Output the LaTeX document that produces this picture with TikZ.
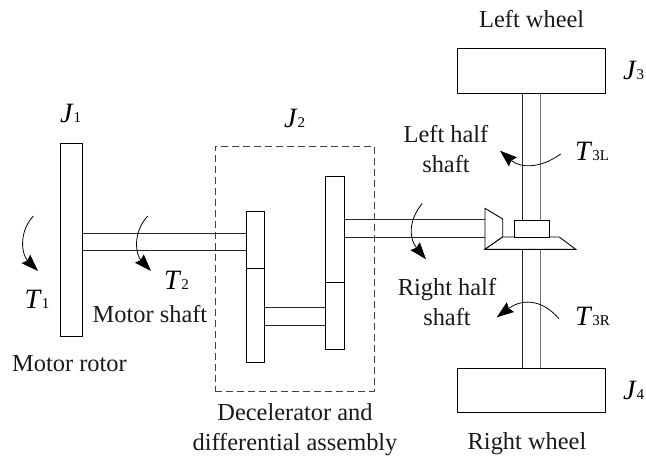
\documentclass[tikz,border=0pt]{standalone}
\usepackage{fontspec}
\setmainfont{Liberation Serif}
\usetikzlibrary{arrows.meta}
\tikzset{
 part/.style={draw=black,fill=white,line width=0.9pt},
 shaftline/.style={draw=black!85,line width=0.8pt},
 torque/.style={draw=black,line width=0.8pt,-{Stealth[length=17pt,width=12pt,inset=2pt]}},
 lbl/.style={font=\fontsize{24.4}{30}\selectfont,align=center,inner sep=0pt,text=black!90,anchor=base},
 sym/.style={inner sep=0pt,text=black,anchor=base west},
}
\newcommand{\symb}[2]{{\fontsize{28}{28}\selectfont\textit{#1}}{\fontsize{15}{15}\selectfont #2}}
\begin{document}
\begin{tikzpicture}[x=1pt,y=-1pt]
\useasboundingbox (0,0) rectangle (646,456);
% shafts
\draw[shaftline] (82,233.3) -- (245.5,233.3) (82,250.7) -- (245.5,250.7);
\draw[shaftline] (264,307.7) -- (325.3,307.7) (264,325) -- (325.3,325);
\draw[shaftline] (344,219.7) -- (485,219.7) (344,237.7) -- (485,237.7);
\draw[shaftline] (522.7,93) -- (522.7,219.7) (522.7,249.3) -- (522.7,367.7);
\draw[shaftline,draw=black!55] (540,93) -- (540,219.7) (540,249.3) -- (540,367.7);
% dashed box
\node[draw=black!75,line width=0.8pt,dash pattern=on 7pt off 4pt,minimum width=159pt,minimum height=245pt,inner sep=0pt,anchor=north west] (box) at (215,146) {};
% parts
\node[part,minimum width=22pt,minimum height=193pt,inner sep=0pt,anchor=north west] (rotor) at (60,143) {};
\node[part,minimum width=18.5pt,minimum height=56.7pt,inner sep=0pt,anchor=north west] (g1) at (245.5,211) {};
\node[part,minimum width=18.5pt,minimum height=94.3pt,inner sep=0pt,anchor=north west] (g2) at (245.5,267.7) {};
\node[part,minimum width=18.7pt,minimum height=105.4pt,inner sep=0pt,anchor=north west] (g3) at (325.3,176.3) {};
\node[part,minimum width=18.7pt,minimum height=67pt,inner sep=0pt,anchor=north west] (g4) at (325.3,281.7) {};
\node[part,minimum width=148.6pt,minimum height=44.7pt,inner sep=0pt,anchor=north west] (w1) at (456.7,48.3) {};
\node[part,minimum width=148.6pt,minimum height=44.7pt,inner sep=0pt,anchor=north west] (w2) at (456.7,367.7) {};
% bevel
\draw[part] (485,208.3) -- (502.7,219) -- (502.7,237) -- (485,249.3) -- cycle;
\draw[part] (502.7,237) -- (559.3,237) -- (575.7,249.3) -- (485,249.3) -- cycle;
\node[part,minimum width=35.3pt,minimum height=17.3pt,inner sep=0pt,anchor=north west] (hub) at (513.7,219.7) {};
% torque arrows
\draw[torque] (33.3,216) .. controls (18,233) and (22,255) .. (38,271);
\draw[torque] (147.7,216) .. controls (132,233) and (136,255) .. (151,271);
\draw[torque] (422.3,203.3) .. controls (407,222) and (410,240) .. (426,259.3);
\draw[torque] (560.7,154) .. controls (540,169) and (520,168) .. (500,150.7);
\draw[torque] (559,318.7) .. controls (540,297) and (520,300) .. (496.7,317.3);
% symbols
\node[sym] (j1) at (60,122.7) {\symb{J}{1}};
\node[sym] (j2) at (284,127) {\symb{J}{2}};
\node[sym] (j3) at (623,79.3) {\symb{J}{3}};
\node[sym] (j4) at (623,399.3) {\symb{J}{4}};
\node[sym] (t1) at (24.5,308) {\symb{T}{1}};
\node[sym] (t2) at (164,289) {\symb{T}{2}};
\node[sym] (t3l) at (575,160.7) {\symb{T}{3L}};
\node[sym] (t3r) at (575,325) {\symb{T}{3R}};
% labels
\node[lbl] (lw) at (531.7,27) {Left wheel};
\node[lbl] (rw) at (527,449) {Right wheel};
\node[lbl] (lhs) at (446,172.7) {Left half\\shaft};
\node[lbl] (rhs) at (447,325.7) {Right half\\shaft};
\node[lbl] (ms) at (150,322) {Motor shaft};
\node[lbl] (mr) at (69.5,371.7) {Motor rotor};
\node[lbl] (da) at (295,450.7) {Decelerator and\\differential assembly};
\end{tikzpicture}
\end{document}
